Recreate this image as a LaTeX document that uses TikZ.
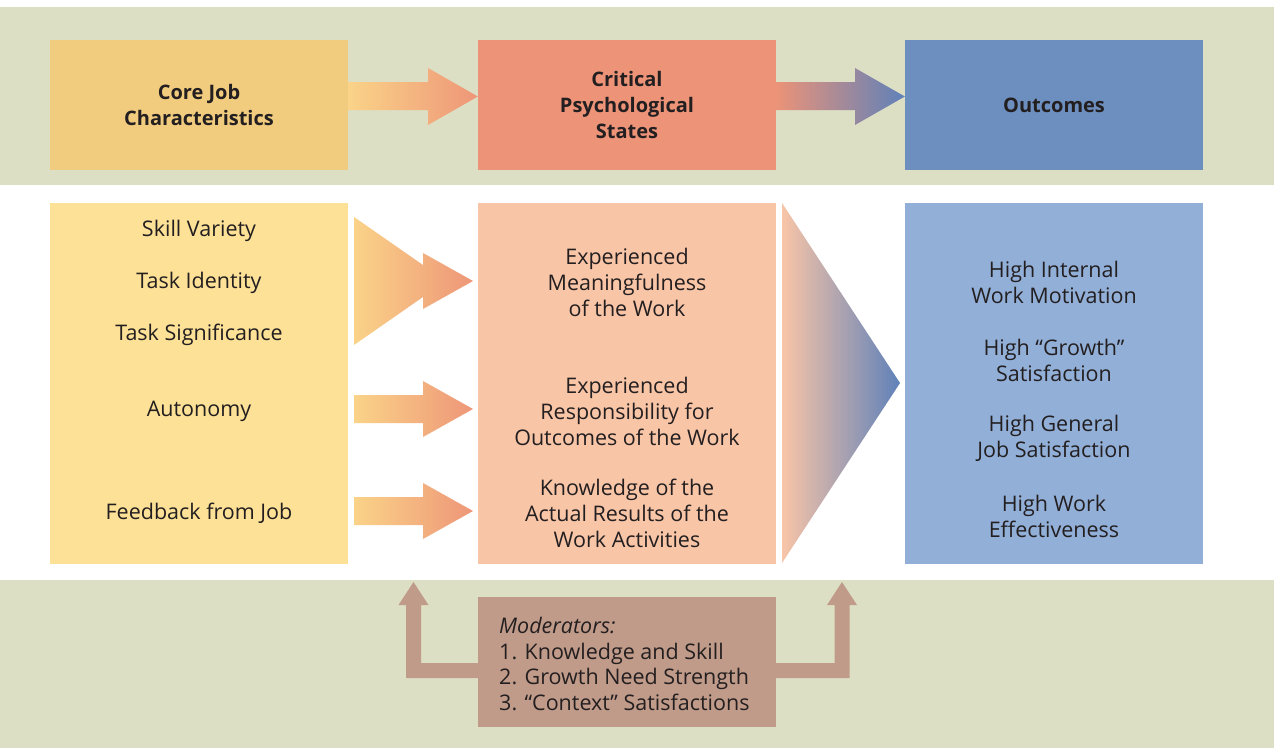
\documentclass[tikz,border=0pt]{standalone}
\usepackage{fontspec}
\setmainfont{Open Sans}
\definecolor{band}{HTML}{DCDFC4}
\definecolor{coreT}{HTML}{F2CC7E}
\definecolor{coreB}{HTML}{FDE197}
\definecolor{critT}{HTML}{EC9378}
\definecolor{critB}{HTML}{F9C5A7}
\definecolor{outT}{HTML}{6D8FC0}
\definecolor{outB}{HTML}{92AFD8}
\definecolor{moder}{HTML}{C19B89}
\definecolor{txt}{HTML}{231F20}
\definecolor{ayel}{HTML}{FAD388}
\definecolor{asal}{HTML}{EE9678}
\definecolor{ablue}{HTML}{5F81B9}
\begin{document}
\begin{tikzpicture}[x=1pt,y=-1pt,
  box/.style={minimum width=298pt,inner sep=0pt,text=txt,align=center,
    font=\fontsize{20}{26}\selectfont},
  hdr/.style={box,minimum height=130pt,font=\fontsize{20}{26}\selectfont\bfseries},
  lbl/.style={text=txt,align=center,inner sep=0pt,font=\fontsize{21.5}{26}\selectfont}]
\useasboundingbox (0,0) rectangle (1274,752);
\fill[white] (0,0) rectangle (1274,752);
% bands
\fill[band] (0,7) rectangle (1274,185);
\fill[band] (0,580) rectangle (1274,748);
% header boxes
\node[hdr,fill=coreT] (core) at (199,105) {Core Job\\Characteristics};
\node[hdr,fill=critT] (crit) at (627,105) {Critical\\Psychological\\States};
\node[hdr,fill=outT] (out) at (1054,105) {Outcomes};
% body boxes
\node[box,fill=coreB,minimum height=361pt] (coreb) at (199,383) {};
\node[box,fill=critB,minimum height=361pt] (critb) at (627,383) {};
\node[box,fill=outB,minimum height=361pt] (outb) at (1054,383) {};
% top arrows
\shade[left color=ayel,right color=asal] (core.east |- 0,82) -- (428,82) -- (428,68) -- (crit.west |- 0,96.5) -- (428,125) -- (428,110) -- (core.east |- 0,110) -- cycle;
\shade[left color=critT,right color=ablue] (crit.east |- 0,82) -- (855,82) -- (855,68) -- (out.west |- 0,96.5) -- (855,125) -- (855,110) -- (crit.east |- 0,110) -- cycle;
% middle arrows
\shade[left color=ayel,right color=asal] (354,217) -- (423,265) -- (423,253) -- (473,281) -- (423,309) -- (423,297) -- (354,345) -- cycle;
\shade[left color=ayel,right color=asal] (354,395) -- (423,395) -- (423,381) -- (473,409) -- (423,437) -- (423,423) -- (354,423) -- cycle;
\shade[left color=ayel,right color=asal] (354,497) -- (423,497) -- (423,483) -- (473,511) -- (423,539) -- (423,525) -- (354,525) -- cycle;
% big triangle
\shade[left color=critB,right color=ablue] (782,203) -- (900,383) -- (782,563) -- cycle;
% left texts
\node[lbl] (sv) at (199,231) {Skill Variety};
\node[lbl] (ti) at (199,283) {Task Identity};
\node[lbl] (ts) at (199,335) {Task Significance};
\node[lbl] (au) at (199,411) {Autonomy};
\node[lbl] (fb) at (199,513) {Feedback from Job};
% middle texts
\node[lbl] (em) at (627,282) {Experienced\\Meaningfulness\\of the Work};
\node[lbl] (er) at (627,411) {Experienced\\Responsibility for\\Outcomes of the Work};
\node[lbl] (kn) at (627,513) {Knowledge of the\\Actual Results of the\\Work Activities};
% right texts
\node[lbl] (o1) at (1054,282) {High Internal\\Work Motivation};
\node[lbl] (o2) at (1054,360) {High “Growth”\\Satisfaction};
\node[lbl] (o3) at (1054,438) {High General\\Job Satisfaction};
\node[lbl] (o4) at (1054,516) {High Work\\Effectiveness};
% moderators
\node[box,fill=moder,minimum height=130pt] (mod) at (627,662) {};
\node[text=txt,align=left,inner sep=0pt,anchor=west,font=\fontsize{21.5}{25.7}\selectfont] (modt) at (499,664) {\textit{Moderators:}\\1. Knowledge and Skill\\2. Growth Need Strength\\3. “Context” Satisfactions};
\fill[moder] (mod.west |- 0,663) -- (421,663) -- (421,605) -- (428.5,605) -- (413.5,582) -- (398.5,605) -- (406,605) -- (406,678) -- (mod.west |- 0,678) -- cycle;
\fill[moder] (mod.east |- 0,663) -- (834.5,663) -- (834.5,605) -- (827,605) -- (842,582) -- (857,605) -- (849.5,605) -- (849.5,678) -- (mod.east |- 0,678) -- cycle;
\end{tikzpicture}
\end{document}
